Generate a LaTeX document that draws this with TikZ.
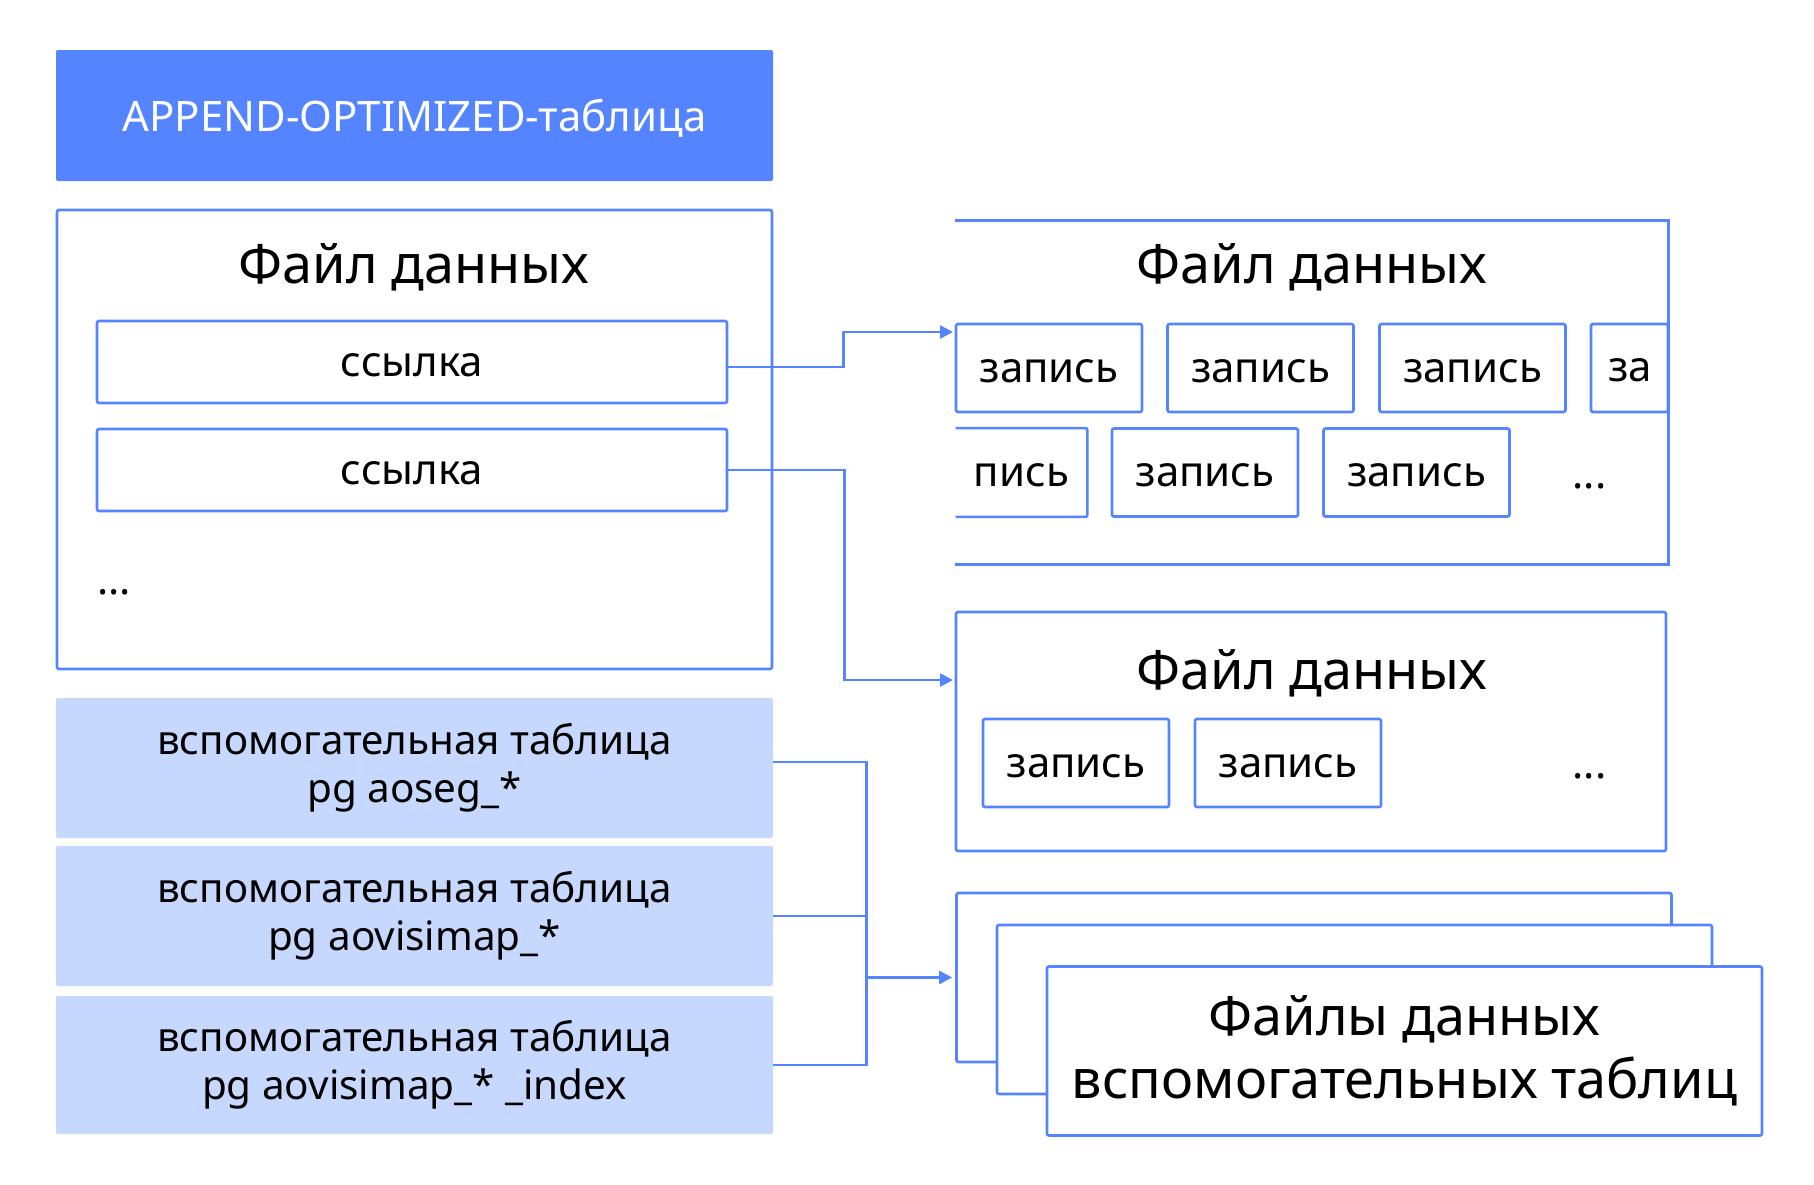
\documentclass[tikz,border=0pt]{standalone}
\usepackage{fontspec}
\setmainfont{Noto Sans}
\usepackage{tikz}
\usetikzlibrary{arrows.meta}

\definecolor{aoblue}{HTML}{5484FF}
\definecolor{aolight}{HTML}{C7D8FE}

\tikzset{
  box/.style={draw=aoblue, line width=1.3pt, rounded corners=1pt, inner sep=0pt},
  small/.style={font=\fontsize{21pt}{24pt}\selectfont},
  big/.style={font=\fontsize{27pt}{31.5pt}\selectfont},
  ref/.style={box, small, text height=14.8pt, text depth=0pt, minimum width=315pt, minimum height=41pt},
  rec/.style={box, small, text height=14pt, text depth=0pt, minimum width=93pt, minimum height=44pt},
  aux/.style={font=\fontsize{20.2pt}{24pt}\selectfont, fill=aolight, rounded corners=1pt, align=center,
    minimum width=358.5pt, minimum height=70pt},
  sheet/.style={box, fill=white, minimum width=357.5pt, minimum height=84.5pt},
  link/.style={draw=aoblue, line width=1.3pt, -{Triangle[length=6.5pt,width=6.5pt]}},
  bus/.style={draw=aoblue, line width=1.3pt}
}

\begin{document}
\begin{tikzpicture}[x=0.5pt, y=-0.5pt]
    \useasboundingbox (0,0) rectangle (1814,1184);

    % draw table header
    \node[small, fill=aoblue, text=white, rounded corners=1pt, text height=16pt, text depth=0pt,
      minimum width=358.5pt, minimum height=65.5pt] (head) at (414.5,115.5) {APPEND-OPTIMIZED-таблица};

    % draw left data file
    \node[box, minimum width=357.5pt, minimum height=229.5pt] (fileA) at (414.5,439.5) {};
    \node[big, anchor=base] (fileAtitle) at (414,283) {Файл данных};
    \node[ref] (ref1) at (412,362) {ссылка};
    \node[ref] (ref2) at (412,470) {ссылка};
    \node[small, anchor=base west, inner sep=0pt] (dotsA) at (97,594) {...};

    % draw first right data file (open on the left)
    \node[minimum width=356.5pt, minimum height=171.5pt] (fileB) at (1311.5,392.5) {};
    \draw[bus] (fileB.north west) -- (fileB.north east) -- (fileB.south east) -- (fileB.south west);
    \node[big, anchor=base] (fileBtitle) at (1312,283) {Файл данных};
    \foreach \x/\n in {1049/1,1260.5/2,1472.5/3}
      \node[rec] (rec1\n) at (\x,368) {запись};
    \node[box, minimum width=38.5pt, minimum height=44pt] (rec14) at (1629.5,368) {};
    \node[small, anchor=base west, inner sep=0pt] (rec14txt) at ([xshift=9pt]rec14.west |- 0,381) {за};
    \node[minimum width=65.5pt, minimum height=44pt, inner sep=0pt] (rec21) at (1021.5,472.5) {};
    \draw[bus, rounded corners=1pt] (rec21.north west) -- (rec21.north east) -- (rec21.south east) -- (rec21.south west);
    \node[small, anchor=base east, inner sep=0pt] (rec21txt) at ([xshift=-9pt]rec21.east |- 0,486) {пись};
    \foreach \x/\n in {1205/2,1416.5/3}
      \node[rec] (rec2\n) at (\x,472.5) {запись};
    \node[small, anchor=base, inner sep=0pt] (dotsB) at (1589.5,488) {...};

    % draw second right data file
    \node[box, minimum width=355pt, minimum height=119.5pt] (fileC) at (1311,731.5) {};
    \node[big, anchor=base] (fileCtitle) at (1312,689) {Файл данных};
    \foreach \x/\n in {1076/1,1288/2}
      \node[rec] (rec3\n) at (\x,763) {запись};
    \node[small, anchor=base, inner sep=0pt] (dotsC) at (1589.5,778) {...};

    % draw stack of auxiliary data files
    \node[sheet] (stackA) at (1314,977.5) {};
    \node[sheet] (stackB) at (1354.5,1009.5) {};
    \node[sheet, big, align=center] (stackC) at (1404.5,1051) {Файлы данных\\вспомогательных таблиц};

    % draw auxiliary tables
    \node[aux] (aux1) at (414.5,768) {вспомогательная таблица\\pg aoseg\_*};
    \node[aux] (aux2) at (414.5,916) {вспомогательная таблица\\pg aovisimap\_*};
    \node[aux, minimum height=69pt] (aux3) at (414.5,1065) {вспомогательная таблица\\pg aovisimap\_* \_index};

    % draw connectors
    \coordinate (in1) at (953,332);
    \coordinate (in2) at (953,680);
    \draw[link] ([yshift=-2.5pt]ref1.east) -- ++(115,0) |- (in1);
    \draw[link] (ref2.east) -- ++(116,0) |- (in2);
    \draw[bus] ([yshift=3pt]aux1.east) -- ++(93,0) coordinate (b1) -- (b1 |- aux3.east) -- (aux3.east);
    \draw[bus] (aux2.east) -- (aux2.east -| b1);
    \draw[link] (b1 |- stackA.west) -- ([xshift=-1.5pt]stackA.west);
  \end{tikzpicture}
\end{document}
